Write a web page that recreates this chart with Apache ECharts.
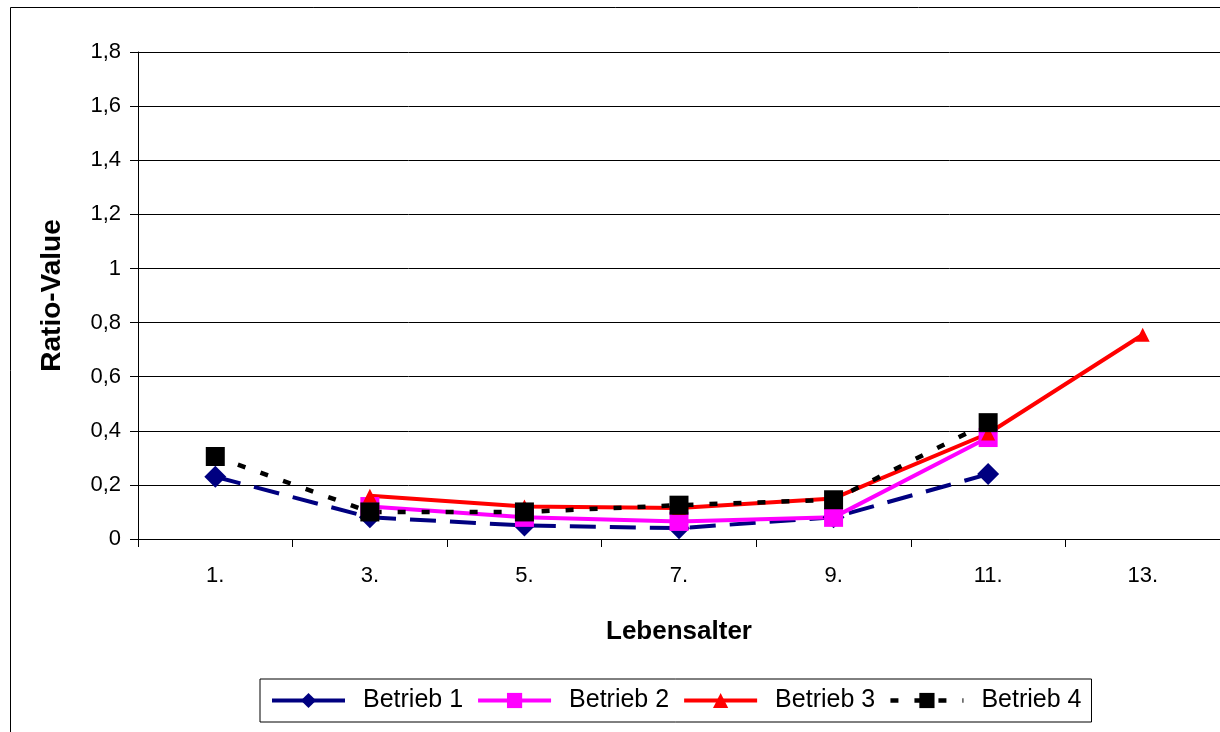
<!DOCTYPE html>
<html>
<head>
<meta charset="utf-8">
<style>
  html, body { margin: 0; padding: 0; background: #fff; }
  #chart { width: 1220px; height: 732px; }
</style>
<script src="https://cdn.jsdelivr.net/npm/echarts@6/dist/echarts.min.js"></script>
</head>
<body>
<div id="chart"></div>
<script>
// Age categories along the x axis
const categories = ['1.', '3.', '5.', '7.', '9.', '11.', '13.'];

// Ratio values per farm (null = no observation)
const betrieb1 = [0.23, 0.08, 0.05, 0.04, 0.08, 0.24, null];
const betrieb2 = [null, 0.12, 0.08, 0.065, 0.08, 0.375, null];
const betrieb3 = [null, 0.16, 0.12, 0.115, 0.15, 0.39, 0.755];
const betrieb4 = [0.305, 0.10, 0.10, 0.125, 0.145, 0.43, null];

const seriesNames = ['Betrieb 1', 'Betrieb 2', 'Betrieb 3', 'Betrieb 4'];

const FONT = '"Liberation Sans", Arial, sans-serif';

const chart = echarts.init(document.getElementById('chart'), null, { renderer: 'canvas' });

function lineSeries(name, data, color, symbol, size, type, width) {
  return {
    name: name,
    type: 'line',
    data: data,
    connectNulls: false,
    symbol: symbol,
    symbolSize: size,
    showAllSymbol: true,
    itemStyle: { color: color, opacity: 1 },
    lineStyle: { color: color, width: width, type: type },
    emphasis: { disabled: true },
    animation: false
  };
}

chart.setOption({
  backgroundColor: '#fff',
  animation: false,
  graphic: [{
    type: 'rect',
    shape: { x: 10.5, y: 7.5, width: 1230, height: 740 },
    style: { fill: 'none', stroke: '#000', lineWidth: 1 },
    silent: true,
    z: -1
  }],
  grid: { left: 138, top: 52, width: 1085, height: 487, containLabel: false },
  legend: {
    data: [
      { name: seriesNames[0], lineStyle: { type: 'solid', width: 4 } },
      { name: seriesNames[1], lineStyle: { width: 4 } },
      { name: seriesNames[2], lineStyle: { width: 4 } },
      { name: seriesNames[3], lineStyle: { width: 4.5, type: [8, 16] } }
    ],
    left: 260,
    top: 679,
    padding: [9, 10, 9, 10],
    itemWidth: 73,
    itemHeight: 19,
    itemGap: 13,
    borderColor: '#000',
    borderWidth: 1,
    textStyle: { fontFamily: FONT, fontSize: 25, color: '#000', padding: [0, 0, 0, 13] }
  },
  xAxis: {
    type: 'category',
    data: categories,
    boundaryGap: true,
    name: 'Lebensalter',
    nameLocation: 'middle',
    nameGap: 80,
    nameTextStyle: { fontFamily: FONT, fontSize: 26, fontWeight: 'bold', color: '#000' },
    axisLine: { onZero: false, lineStyle: { color: '#000', width: 1 } },
    axisTick: { show: true, alignWithLabel: false, length: 8, lineStyle: { color: '#000' } },
    axisLabel: { fontFamily: FONT, fontSize: 22, color: '#000', margin: 26 },
    splitLine: { show: false }
  },
  yAxis: {
    type: 'value',
    min: 0,
    max: 1.8,
    interval: 0.2,
    name: 'Ratio-Value',
    nameLocation: 'middle',
    nameRotate: 90,
    nameGap: 72,
    nameTextStyle: { fontFamily: FONT, fontSize: 28, fontWeight: 'bold', color: '#000' },
    axisLine: { show: true, lineStyle: { color: '#000', width: 1 } },
    axisTick: { show: true, inside: false, length: 8, lineStyle: { color: '#000' } },
    axisLabel: {
      fontFamily: FONT, fontSize: 22, color: '#000', margin: 17,
      formatter: function (v) { return String(Math.round(v * 10) / 10).replace('.', ','); }
    },
    splitLine: { show: true, lineStyle: { color: '#000', width: 1 } }
  },
  series: [
    lineSeries('Betrieb 1', betrieb1, '#000080', 'diamond', 22, [26, 14], 4),
    lineSeries('Betrieb 2', betrieb2, '#FF00FF', 'rect', 19, 'solid', 4),
    lineSeries('Betrieb 3', betrieb3, '#FF0000', 'triangle', 14, 'solid', 4),
    lineSeries('Betrieb 4', betrieb4, '#000000', 'rect', 19, [8, 16], 4.5)
  ]
});
</script>
</body>
</html>
